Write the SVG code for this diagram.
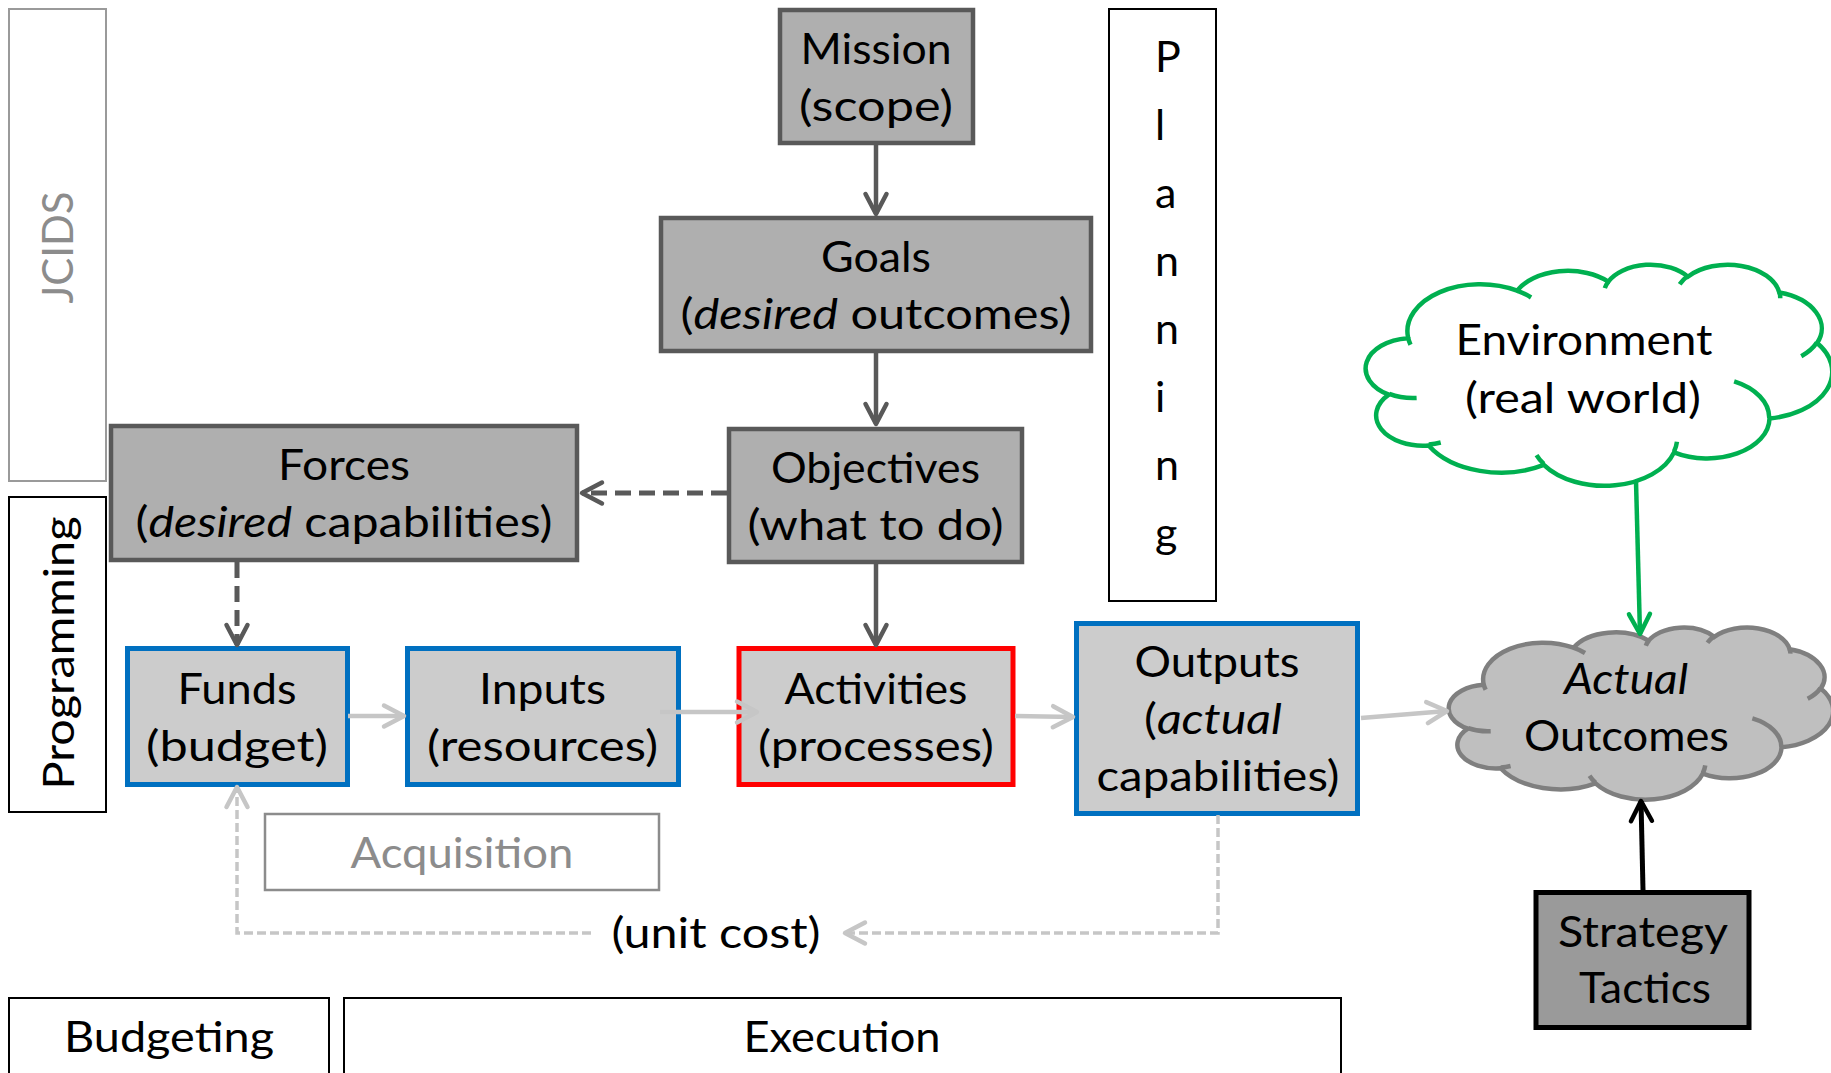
<svg xmlns="http://www.w3.org/2000/svg" width="1831" height="1073" viewBox="0 0 1831 1073">
  <defs>
    <style>
      .t { font-family: Lato, "Open Sans", "Liberation Sans", sans-serif; font-size: 43px; fill: #000; text-anchor: middle; }
      .i { font-style: italic; }
      .muted { fill: #8c8c8c; }
      .dark { fill: #afafaf; stroke: #595959; stroke-width: 4.5; }
      .light { fill: #cccccc; stroke-width: 5; }
      .blue { stroke: #0070c0; }
      .red { stroke: #ff0000; }
      .frame { fill: #fff; stroke: #000; stroke-width: 2; }
      .frame-grey { fill: #fff; stroke: #9a9a9a; stroke-width: 2; }
      .c-dark { fill: none; stroke: #595959; stroke-width: 4.5; marker-end: url(#ah-dark); }
      .c-dark-dash { stroke-dasharray: 16 8; stroke-width: 5; }
      .c-light { fill: none; stroke: #c6c6c6; stroke-width: 4.5; marker-end: url(#ah-light); }
      .c-light-dash { stroke-dasharray: 9 4; stroke-width: 3.5; }
      .cloud-edge { vector-effect: non-scaling-stroke; }
    </style>
    <marker id="ah-dark" markerUnits="userSpaceOnUse" viewBox="-25 -15 30 30" markerWidth="30" markerHeight="30" refX="0" refY="0" orient="auto" overflow="visible">
      <path d="M-20,-10.5 L0,0 L-20,10.5" fill="none" stroke="#595959" stroke-width="4.5" stroke-linejoin="round" stroke-linecap="round"/>
    </marker>
    <marker id="ah-light" markerUnits="userSpaceOnUse" viewBox="-25 -15 30 30" markerWidth="30" markerHeight="30" refX="0" refY="0" orient="auto" overflow="visible">
      <path d="M-20,-10.5 L0,0 L-20,10.5" fill="none" stroke="#c6c6c6" stroke-width="4.5" stroke-linejoin="round" stroke-linecap="round"/>
    </marker>
    <marker id="ah-green" markerUnits="userSpaceOnUse" viewBox="-25 -15 30 30" markerWidth="30" markerHeight="30" refX="0" refY="0" orient="auto" overflow="visible">
      <path d="M-20,-10.5 L0,0 L-20,10.5" fill="none" stroke="#00b050" stroke-width="4.5" stroke-linejoin="round" stroke-linecap="round"/>
    </marker>
    <marker id="ah-black" markerUnits="userSpaceOnUse" viewBox="-25 -15 30 30" markerWidth="30" markerHeight="30" refX="0" refY="0" orient="auto" overflow="visible">
      <path d="M-20,-10.5 L0,0 L-20,10.5" fill="none" stroke="#000" stroke-width="4.5" stroke-linejoin="round" stroke-linecap="round"/>
    </marker>
    <!-- cloud outline on a 43200 x 43200 grid -->
    <path id="cloud-outline" class="cloud-edge" d="M3900 14370 A6753 9190 0 0 1 14005 5202 A5333 7267 0 0 1 22458 3433 A4365 5945 0 0 1 29835 2481 A4857 6595 0 0 1 38320 5576 A5333 7273 0 0 1 41820 15460 A6775 9220 0 0 1 37406 30204 A5785 7867 0 0 1 28558 36814 A6752 9215 0 0 1 16483 39267 A7720 10543 0 0 1 5807 35472 A4360 5918 0 0 1 2115 25552 A4345 5945 0 0 1 3865 14508 Z"/>
    <!-- short inner arcs of the cloud -->
    <path id="cloud-inner" class="cloud-edge" d="M4693 26177 A4345 5945 0 0 1 2160 25380 M6928 34899 A4360 5918 0 0 1 5820 35281 M16478 39090 A6752 9215 0 0 1 15810 37348 M28827 34751 A6752 9215 0 0 1 28560 36660 M34129 22954 A5785 7867 0 0 1 37381 30090 M41798 15354 A5333 7273 0 0 1 40350 18030 M38324 5426 A4857 6595 0 0 1 38401 6690 M29078 3952 A4857 6595 0 0 1 29820 2339 M22141 4720 A4365 5945 0 0 1 22500 3331 M14000 5192 A6753 9190 0 0 1 15303 6544 M4127 15789 A6753 9190 0 0 1 3900 14371"/>
  </defs>

  <rect width="1831" height="1073" fill="#fff"/>

  <!-- PPBE phase frames -->
  <g id="jcids">
    <rect class="frame-grey" x="9" y="9" width="97" height="472"/>
    <text class="t muted" transform="translate(73,247.5) rotate(-90)" textLength="112" lengthAdjust="spacingAndGlyphs">JCIDS</text>
  </g>
  <g id="programming">
    <rect class="frame" x="9" y="497" width="97" height="315"/>
    <text class="t" transform="translate(74,653) rotate(-90)" textLength="273" lengthAdjust="spacingAndGlyphs">Programming</text>
  </g>
  <g id="planning">
    <rect class="frame" x="1109" y="9" width="107" height="592"/>
    <text x="1155" y="72" class="t" style="text-anchor:start">P</text>
    <text x="1155" y="140" class="t" style="text-anchor:start">l</text>
    <text x="1155" y="208" class="t" style="text-anchor:start">a</text>
    <text x="1155" y="276" class="t" style="text-anchor:start">n</text>
    <text x="1155" y="344" class="t" style="text-anchor:start">n</text>
    <text x="1155" y="412" class="t" style="text-anchor:start">i</text>
    <text x="1155" y="480" class="t" style="text-anchor:start">n</text>
    <text x="1155" y="548" class="t" style="text-anchor:start">g</text>
  </g>
  <g id="acquisition">
    <rect x="265" y="814" width="394" height="76" fill="#fff" stroke="#8c8c8c" stroke-width="2.5"/>
    <text class="t muted" x="462" y="868" textLength="223" lengthAdjust="spacingAndGlyphs">Acquisition</text>
  </g>
  <g id="budgeting">
    <rect class="frame" x="9" y="998" width="320" height="90" stroke-width="2.5"/>
    <text class="t" x="169" y="1052" textLength="210" lengthAdjust="spacingAndGlyphs">Budgeting</text>
  </g>
  <g id="execution">
    <rect class="frame" x="344" y="998" width="997" height="90" stroke-width="2.5"/>
    <text class="t" x="842" y="1052" textLength="197" lengthAdjust="spacingAndGlyphs">Execution</text>
  </g>

  <!-- planning chain -->
  <g id="mission">
    <rect class="dark" x="780" y="10" width="193" height="133"/>
    <text class="t" x="876" y="63.5" textLength="151" lengthAdjust="spacingAndGlyphs">Mission</text>
    <text class="t" x="876" y="121" textLength="154" lengthAdjust="spacingAndGlyphs">(scope)</text>
  </g>
  <g id="goals">
    <rect class="dark" x="661" y="218" width="430" height="133"/>
    <text class="t" x="876" y="271.5" textLength="110" lengthAdjust="spacingAndGlyphs">Goals</text>
    <text class="t" x="876" y="329" textLength="391" lengthAdjust="spacingAndGlyphs">(<tspan class="i">desired</tspan> outcomes)</text>
  </g>
  <g id="objectives">
    <rect class="dark" x="729" y="429" width="293" height="133"/>
    <text class="t" x="875.5" y="482.5" textLength="209" lengthAdjust="spacingAndGlyphs">Objectives</text>
    <text class="t" x="875.5" y="540" textLength="256" lengthAdjust="spacingAndGlyphs">(what to do)</text>
  </g>
  <g id="forces">
    <rect class="dark" x="111" y="426" width="466" height="134"/>
    <text class="t" x="344" y="479.5" textLength="132" lengthAdjust="spacingAndGlyphs">Forces</text>
    <text class="t" x="344" y="537" textLength="417" lengthAdjust="spacingAndGlyphs">(<tspan class="i">desired</tspan> capabilities)</text>
  </g>

  <!-- execution chain -->
  <g id="funds">
    <rect class="light blue" x="127.5" y="648.5" width="220" height="136"/>
    <text class="t" x="237" y="703.5" textLength="119" lengthAdjust="spacingAndGlyphs">Funds</text>
    <text class="t" x="237" y="761" textLength="182" lengthAdjust="spacingAndGlyphs">(budget)</text>
  </g>
  <g id="inputs">
    <rect class="light blue" x="407.5" y="648.5" width="271" height="136"/>
    <text class="t" x="542.5" y="703.5" textLength="127" lengthAdjust="spacingAndGlyphs">Inputs</text>
    <text class="t" x="542.5" y="761" textLength="231" lengthAdjust="spacingAndGlyphs">(resources)</text>
  </g>
  <g id="activities">
    <rect class="light red" x="739" y="648.5" width="274" height="136"/>
    <text class="t" x="876" y="703.5" textLength="183" lengthAdjust="spacingAndGlyphs">Activities</text>
    <text class="t" x="876" y="761" textLength="236" lengthAdjust="spacingAndGlyphs">(processes)</text>
  </g>
  <g id="outputs">
    <rect class="light blue" x="1076.5" y="623.5" width="281" height="190"/>
    <text class="t" x="1217" y="677" textLength="165" lengthAdjust="spacingAndGlyphs">Outputs</text>
    <text class="t" x="1213" y="734" textLength="138" lengthAdjust="spacingAndGlyphs">(<tspan class="i">actual</tspan></text>
    <text class="t" x="1218" y="791" textLength="243" lengthAdjust="spacingAndGlyphs">capabilities)</text>
  </g>

  <!-- outcome side -->
  <g id="environment">
    <g transform="translate(1366,264) scale(0.010787,0.0051157)" stroke="#00b050" stroke-width="4.5">
      <use href="#cloud-outline" fill="#fff"/>
      <use href="#cloud-inner" fill="none"/>
    </g>
    <text class="t" x="1584" y="354.5" textLength="257" lengthAdjust="spacingAndGlyphs">Environment</text>
    <text class="t" x="1583" y="412.5" textLength="236" lengthAdjust="spacingAndGlyphs">(real world)</text>
  </g>
  <g id="actual-outcomes">
    <g transform="translate(1449,627) scale(0.0088889,0.0039815)" stroke="#7f7f7f" stroke-width="4.5">
      <use href="#cloud-outline" fill="#bfbfbf"/>
      <use href="#cloud-inner" fill="none"/>
    </g>
    <text class="t i" x="1626" y="694" textLength="124" lengthAdjust="spacingAndGlyphs">Actual</text>
    <text class="t" x="1626.5" y="751" textLength="205" lengthAdjust="spacingAndGlyphs">Outcomes</text>
  </g>
  <g id="strategy">
    <rect x="1536" y="892.5" width="213" height="135" fill="#9a9a9a" stroke="#000" stroke-width="5"/>
    <text class="t" x="1643" y="947" textLength="170" lengthAdjust="spacingAndGlyphs">Strategy</text>
    <text class="t" x="1645" y="1003" textLength="132" lengthAdjust="spacingAndGlyphs">Tactics</text>
  </g>

  <!-- unit cost label on the feedback loop -->
  <g id="unit-cost">
    <text class="t" x="716" y="948" textLength="209" lengthAdjust="spacingAndGlyphs">(unit cost)</text>
  </g>

  <g id="connectors">
    <path class="c-dark" d="M876,145 V214"/>
    <path class="c-dark" d="M876,353 V424"/>
    <path class="c-dark" d="M876,564 V645"/>
    <path class="c-dark c-dark-dash" d="M727,493 H582"/>
    <path class="c-dark c-dark-dash" d="M237,562 V645"/>
    <path class="c-light" d="M348,716 H404"/>
    <path class="c-light" d="M660,712 H757"/>
    <path class="c-light" d="M1015,716 L1073,717"/>
    <path class="c-light" d="M1361,718 L1447,711"/>
    <path class="c-light c-light-dash" d="M1218,815 V933 H845"/>
    <path class="c-light c-light-dash" d="M591,933 H237 V787"/>
    <path d="M1636,481 L1640,634" fill="none" stroke="#00b050" stroke-width="4.5" marker-end="url(#ah-green)"/>
    <path d="M1643,890 L1641,801" fill="none" stroke="#000" stroke-width="5" marker-end="url(#ah-black)"/>
  </g>
</svg>
